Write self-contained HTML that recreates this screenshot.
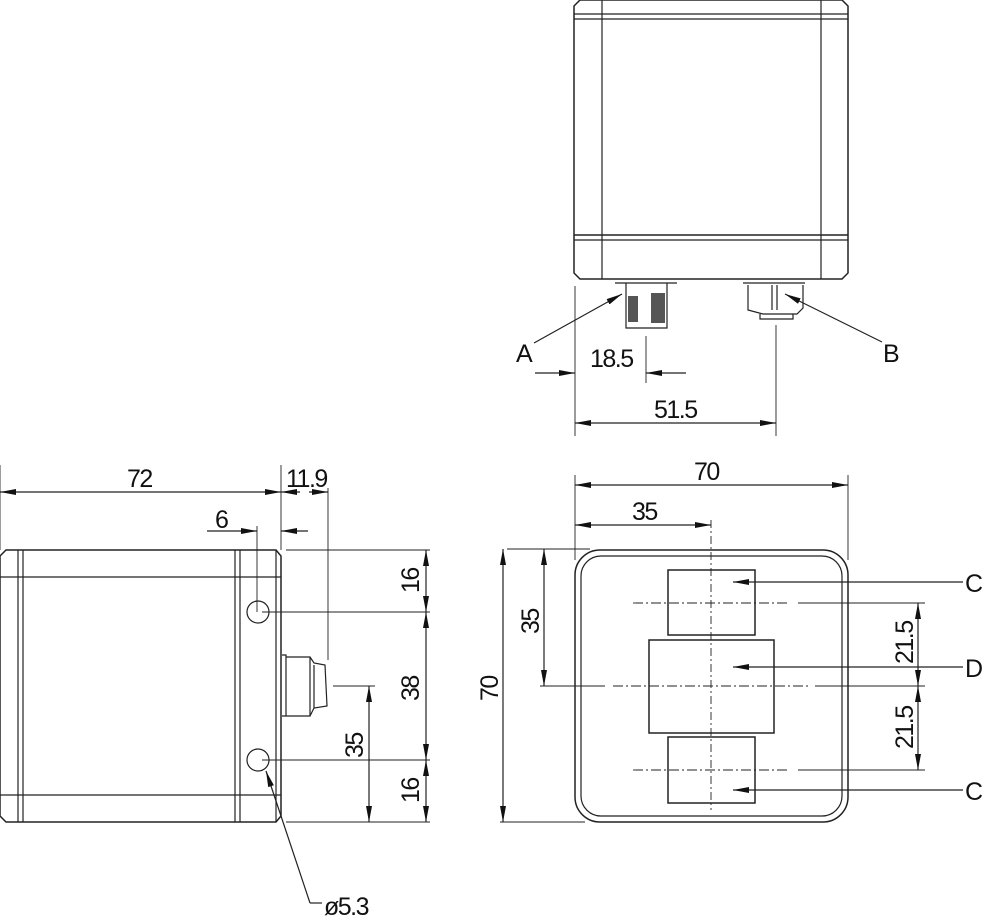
<!DOCTYPE html>
<html><head><style>body{margin:0;background:#fff}svg{display:block}text{font-family:"Liberation Sans Narrow","Liberation Sans",sans-serif;font-size:25px;letter-spacing:-1.5px;fill:#111}</style></head><body>
<svg width="1000" height="922" viewBox="0 0 1000 922" xmlns="http://www.w3.org/2000/svg">
<defs>
<marker id="a" viewBox="0 0 16 6" refX="16" refY="3" markerWidth="16" markerHeight="6" orient="auto-start-reverse" markerUnits="userSpaceOnUse"><path d="M0,0L16,3L0,6z" fill="#111"/></marker>
</defs>
<g fill="none" stroke="#222" stroke-width="1.2">
<path d="M574,6 L580,0 L842,0 L848,6 L848,273 L842,279 L580,279 L574,273 Z" stroke-width="1.5"/>
<line x1="602" y1="0" x2="602" y2="279"/><line x1="821" y1="0" x2="821" y2="279"/>
<line x1="574" y1="14" x2="848" y2="14"/><line x1="574" y1="19" x2="848" y2="19"/>
<line x1="574" y1="235" x2="848" y2="235" stroke-width="1.5"/><line x1="574" y1="240" x2="848" y2="240"/>
<path d="M615,283 L677,283 M626,283 L626,328 L667,328 L667,283"/>
<rect x="628" y="296" width="10" height="26" fill="#555" stroke="none"/><rect x="651" y="293" width="14" height="30" fill="#555" stroke="none"/>
<path d="M743,283 L805,283 M748,285 L748,310 L763,314 L797,314 L803,308 L803,285 M760,314 L760,319 L793,319 L793,314 M772,285 L772,310 M777,285 L777,310"/>
<line x1="575" y1="286" x2="575" y2="436" stroke-width="0.9"/>
<line x1="646" y1="336" x2="646" y2="383" stroke-width="0.9"/>
<line x1="776" y1="325" x2="776" y2="436" stroke-width="0.9"/>
<line x1="535" y1="373" x2="575" y2="373" marker-end="url(#a)"/>
<line x1="686" y1="373" x2="646" y2="373" marker-end="url(#a)"/>
<line x1="575" y1="423" x2="776" y2="423" marker-start="url(#a)" marker-end="url(#a)"/>
<line x1="534" y1="343" x2="622" y2="294" marker-end="url(#a)"/>
<line x1="882" y1="342" x2="785" y2="294" marker-end="url(#a)"/>
<path d="M6,550 L276,550 L281,556 L281,816 L276,822 L6,822 L0,816 L0,556 Z" stroke-width="1.5"/>
<line x1="18" y1="550" x2="18" y2="822"/><line x1="23" y1="550" x2="23" y2="822"/>
<line x1="235" y1="550" x2="235" y2="822"/><line x1="240" y1="550" x2="240" y2="822"/>
<line x1="276" y1="550" x2="276" y2="822"/>
<line x1="0" y1="577" x2="281" y2="577"/><line x1="0" y1="795" x2="281" y2="795"/>
<circle cx="258" cy="612" r="11"/><circle cx="258" cy="760" r="11"/>
<path d="M282,655 L286,655 L286,716 L282,716 M286,657 L310,657 L314,663 L325,665 L327,706 L314,708 L310,716 L286,716 M310,657 L310,716 M314,665 L314,708"/>
<line x1="0" y1="465" x2="0" y2="550" stroke-width="0.9"/>
<line x1="281" y1="465" x2="281" y2="550" stroke-width="0.9"/>
<line x1="328" y1="488" x2="328" y2="660" stroke-width="0.9"/>
<line x1="257" y1="526" x2="257" y2="612" stroke-width="0.9"/>
<line x1="0" y1="492" x2="281" y2="492" marker-start="url(#a)" marker-end="url(#a)"/>
<line x1="281" y1="492" x2="300" y2="492" marker-start="url(#a)"/>
<line x1="309" y1="492" x2="328" y2="492" marker-end="url(#a)"/>
<line x1="207" y1="531" x2="257" y2="531" marker-end="url(#a)"/>
<line x1="308" y1="531" x2="281" y2="531" marker-end="url(#a)"/>
<line x1="286" y1="550" x2="430" y2="550" stroke-width="0.9"/>
<line x1="262" y1="612" x2="430" y2="612" stroke-width="0.9"/>
<line x1="262" y1="760" x2="430" y2="760" stroke-width="0.9"/>
<line x1="286" y1="822" x2="430" y2="822" stroke-width="0.9"/>
<line x1="333" y1="686" x2="375" y2="686" stroke-width="0.9"/>
<line x1="426" y1="550" x2="426" y2="612" marker-start="url(#a)" marker-end="url(#a)"/>
<line x1="426" y1="612" x2="426" y2="760" marker-start="url(#a)" marker-end="url(#a)"/>
<line x1="426" y1="760" x2="426" y2="822" marker-start="url(#a)" marker-end="url(#a)"/>
<line x1="369" y1="686" x2="369" y2="822" marker-start="url(#a)" marker-end="url(#a)"/>
<line x1="310" y1="903" x2="266" y2="771" marker-end="url(#a)"/>
<line x1="310" y1="903" x2="322" y2="903"/>
<rect x="575" y="550" width="273" height="272" rx="25" stroke-width="1.5"/>
<rect x="581" y="556" width="261" height="260" rx="20"/>
<rect x="668" y="570" width="87" height="65" stroke-width="1.5"/>
<rect x="649" y="640" width="125" height="93" stroke-width="1.5"/>
<rect x="668" y="737" width="87" height="66" stroke-width="1.5"/>
<line x1="711" y1="520" x2="711" y2="810" stroke-dasharray="8,3,2,3" stroke-width="0.9"/>
<line x1="540" y1="686" x2="605" y2="686" stroke-width="0.9"/>
<line x1="613" y1="686" x2="810" y2="686" stroke-dasharray="10,3,2,3" stroke-width="0.9"/>
<line x1="815" y1="686" x2="925" y2="686" stroke-width="0.9"/>
<line x1="633" y1="603" x2="790" y2="603" stroke-dasharray="10,3,2,3" stroke-width="0.9"/>
<line x1="798" y1="603" x2="925" y2="603" stroke-width="0.9"/>
<line x1="633" y1="770" x2="790" y2="770" stroke-dasharray="10,3,2,3" stroke-width="0.9"/>
<line x1="798" y1="770" x2="925" y2="770" stroke-width="0.9"/>
<line x1="575" y1="475" x2="575" y2="560" stroke-width="0.9"/>
<line x1="848" y1="475" x2="848" y2="560" stroke-width="0.9"/>
<line x1="575" y1="485" x2="848" y2="485" marker-start="url(#a)" marker-end="url(#a)"/>
<line x1="575" y1="525" x2="711" y2="525" marker-start="url(#a)" marker-end="url(#a)"/>
<line x1="507" y1="549" x2="590" y2="549" stroke-width="0.9"/>
<line x1="500" y1="822" x2="585" y2="822" stroke-width="0.9"/>
<line x1="503" y1="549" x2="503" y2="822" marker-start="url(#a)" marker-end="url(#a)"/>
<line x1="544" y1="549" x2="544" y2="686" marker-start="url(#a)" marker-end="url(#a)"/>
<line x1="918" y1="603" x2="918" y2="686" marker-start="url(#a)" marker-end="url(#a)"/>
<line x1="918" y1="686" x2="918" y2="770" marker-start="url(#a)" marker-end="url(#a)"/>
<line x1="963" y1="582" x2="733" y2="582" marker-end="url(#a)"/>
<line x1="963" y1="667" x2="733" y2="667" marker-end="url(#a)"/>
<line x1="963" y1="790" x2="733" y2="790" marker-end="url(#a)"/>
</g>
<text x="516" y="362">A</text>
<text x="883" y="362">B</text>
<text x="590" y="367">18.5</text>
<text x="654" y="418">51.5</text>
<text x="127" y="487">72</text>
<text x="286" y="487">11.9</text>
<text x="215" y="528">6</text>
<text x="694" y="480">70</text>
<text x="632" y="520">35</text>
<text x="965" y="592">C</text>
<text x="965" y="677">D</text>
<text x="965" y="800">C</text>
<text x="324" y="915">ø5.3</text>
<text transform="translate(419,593) rotate(-90)">16</text>
<text transform="translate(419,701) rotate(-90)">38</text>
<text transform="translate(419,803) rotate(-90)">16</text>
<text transform="translate(363,758) rotate(-90)">35</text>
<text transform="translate(498,701) rotate(-90)">70</text>
<text transform="translate(539,634) rotate(-90)">35</text>
<text transform="translate(913,664) rotate(-90)">21.5</text>
<text transform="translate(913,749) rotate(-90)">21.5</text>
</svg>
</body></html>
